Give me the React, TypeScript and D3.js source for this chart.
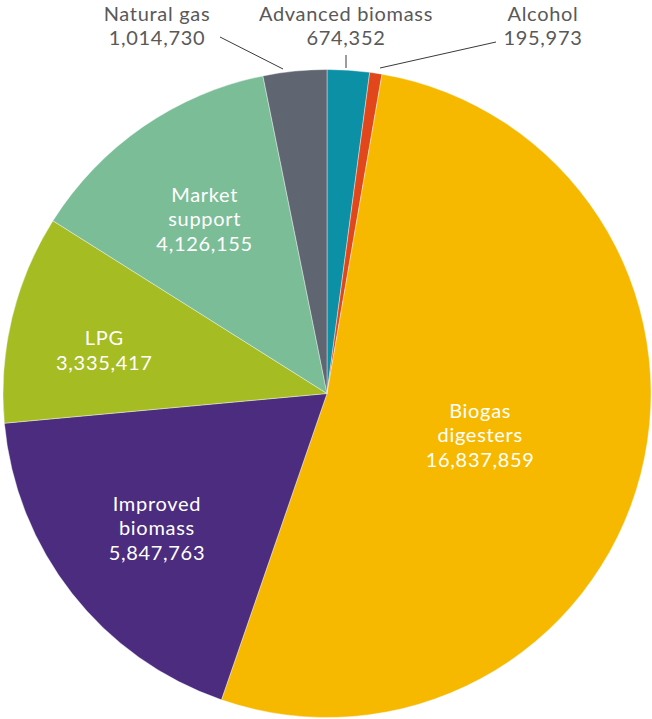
import React from "react";
import * as d3 from "d3";

const categories = ["Advanced biomass", "Alcohol", "Biogas digesters", "Improved biomass", "LPG", "Market support", "Natural gas"];
const values = [674352, 195973, 16837859, 5847763, 3335417, 4126155, 1014730];
const labelLines = [
  ["Advanced biomass"],
  ["Alcohol"],
  ["Biogas", "digesters"],
  ["Improved", "biomass"],
  ["LPG"],
  ["Market", "support"],
  ["Natural gas"],
];
const colors = ["#0B90A6", "#E1471A", "#F6B900", "#4B2C7E", "#A5BC22", "#7BBD97", "#5F6672"];

// label layout: inside (radius fraction, angle offset deg) or outside (text anchor + leader)
const insideLayout: Record<number, { r: number; da: number }> = {
  2: { r: 0.49, da: 0.8 },
  3: { r: 0.67, da: -0.3 },
  4: { r: 0.70, da: -2.5 },
  5: { r: 0.657, da: -0.5 },
};
const outsideLayout: Record<number, { x: number; y: number; lx1: number; ly1: number; lx2: number; ly2: number }> = {
  0: { x: 346, y: 21, lx1: 346, ly1: 55, lx2: 346, ly2: 68 },
  1: { x: 543, y: 21, lx1: 496, ly1: 42, lx2: 380, ly2: 68 },
  6: { x: 157, y: 21, lx1: 220, ly1: 37, lx2: 283, ly2: 69 },
};

const W = 652;
const H = 719;
const cx = 327;
const cy = 393.5;
const R = 324;
const FONT = "Lato, 'Open Sans', sans-serif";
const FS = 20;
const LH = 24.5;
const LS = 0.7;

export default function App() {
  const fmt = d3.format(",");
  const pie = d3.pie<number>().sort(null).value((d) => d);
  const arcs = pie(values);
  const arc = d3.arc<d3.PieArcDatum<number>>().innerRadius(0).outerRadius(R);

  return (
    <svg width={W} height={H} style={{ position: "absolute", left: 0, top: 0 }} fontFamily={FONT} fontWeight={400}>
      <g transform={`translate(${cx},${cy})`}>
        {arcs.map((a, i) => (
          <path key={i} d={arc(a) || ""} fill={colors[i]} stroke="#ffffff" strokeWidth={0.4} />
        ))}
        {arcs.map((a, i) => {
          const L = insideLayout[i];
          if (!L) return null;
          const mid = (a.startAngle + a.endAngle) / 2 + (L.da * Math.PI) / 180;
          const r = L.r * R;
          const x = Math.sin(mid) * r;
          const y = -Math.cos(mid) * r;
          const lines = [...labelLines[i], fmt(values[i])];
          const n = lines.length;
          const y0 = y + 7 - ((n - 1) * LH) / 2;
          return (
            <text key={"in" + i} textAnchor="middle" fill="#ffffff" fontSize={FS} letterSpacing={LS}>
              {lines.map((t, k) => (
                <tspan key={k} x={x} y={y0 + k * LH}>{t}</tspan>
              ))}
            </text>
          );
        })}
      </g>
      {Object.keys(outsideLayout).map((k) => {
        const i = +k;
        const L = outsideLayout[i];
        const lines = [...labelLines[i], fmt(values[i])];
        return (
          <g key={"out" + i}>
            <line x1={L.lx1} y1={L.ly1} x2={L.lx2} y2={L.ly2} stroke="#3a3a3a" strokeWidth={1} />
            <text textAnchor="middle" fill="#595959" fontSize={FS} letterSpacing={LS}>
              {lines.map((t, j) => (
                <tspan key={j} x={L.x} y={L.y + j * 23.5}>{t}</tspan>
              ))}
            </text>
          </g>
        );
      })}
    </svg>
  );
}
